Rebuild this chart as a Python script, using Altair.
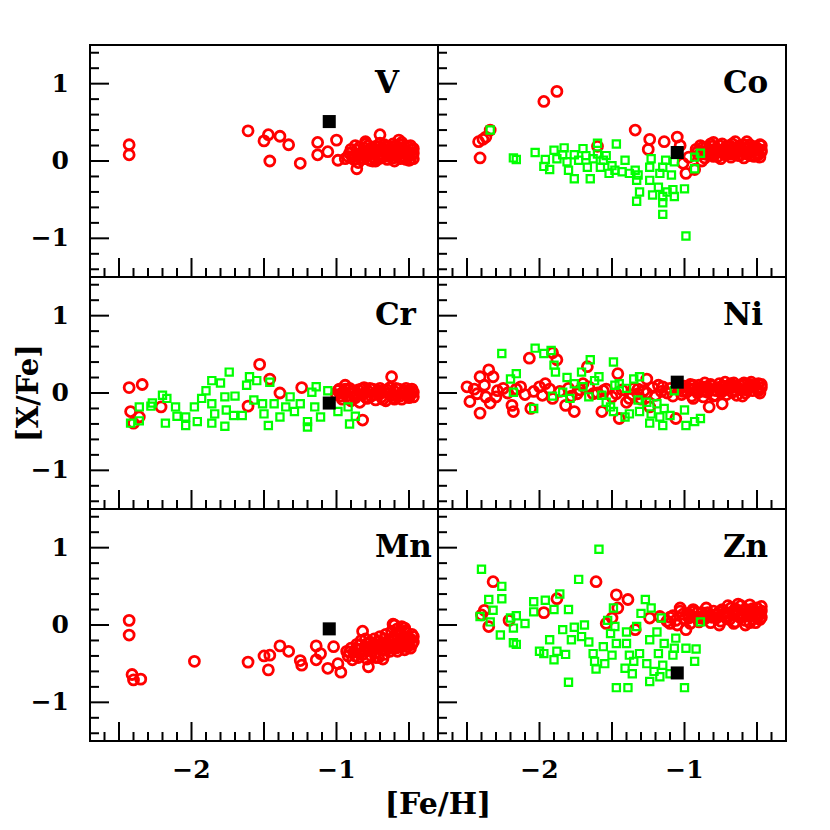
import altair as alt
import pandas as pd

FONT = "DejaVu Serif"
XDOM = [-2.7, -0.3]
YDOM = [-1.5, 1.5]
W, H = 348, 232

panel_names = ["V", "Co", "Cr", "Ni", "Mn", "Zn"]

# ---------------- data (x = [Fe/H], y = [X/Fe]) ----------------
V_red = [(-2.43, 0.21), (-2.43, 0.08), (-1.61, 0.39), (-1.47, 0.34), (-1.50, 0.26), (-1.39, 0.32),
         (-1.33, 0.21), (-1.46, 0.00), (-1.25, -0.03), (-1.13, 0.24), (-1.00, 0.27), (-1.13, 0.08),
         (-1.06, 0.12), (-0.99, 0.01), (-0.94, 0.03), (-0.86, -0.10), (-0.70, 0.34), (-0.57, 0.27),
         (-0.92, 0.06), (-0.90, 0.15), (-0.88, 0.02), (-0.87, 0.20), (-0.85, 0.09), (-0.84, 0.18),
         (-0.83, 0.04), (-0.82, 0.12), (-0.80, 0.22), (-0.79, 0.07), (-0.78, 0.14), (-0.77, 0.01),
         (-0.76, 0.17), (-0.75, 0.10), (-0.74, 0.05), (-0.73, 0.19), (-0.72, 0.13), (-0.71, 0.03),
         (-0.70, 0.09), (-0.69, 0.16), (-0.68, 0.06), (-0.67, 0.21), (-0.66, 0.11), (-0.65, 0.02),
         (-0.64, 0.15), (-0.63, 0.08), (-0.62, 0.18), (-0.61, 0.04), (-0.60, 0.12), (-0.59, 0.20),
         (-0.58, 0.07), (-0.57, 0.14), (-0.56, 0.03), (-0.55, 0.17), (-0.54, 0.10), (-0.53, 0.05),
         (-0.52, 0.13), (-0.51, 0.19), (-0.50, 0.08), (-0.49, 0.02), (-0.48, 0.15), (-0.47, 0.10),
         (-0.85, -0.02), (-0.80, 0.25), (-0.75, 0.00), (-0.70, 0.23), (-0.65, 0.18), (-0.60, 0.00),
         (-0.55, 0.24), (-0.50, 0.01),
         (-0.91, 0.10), (-0.89, 0.05), (-0.86, 0.14), (-0.84, 0.08), (-0.81, 0.17), (-0.81, 0.03),
         (-0.78, 0.20), (-0.77, 0.09), (-0.74, 0.15), (-0.73, 0.00), (-0.71, 0.18), (-0.69, 0.04),
         (-0.67, 0.12), (-0.66, 0.19), (-0.64, 0.06), (-0.62, 0.13), (-0.61, 0.22), (-0.59, 0.09),
         (-0.58, 0.16), (-0.56, 0.21), (-0.55, 0.06), (-0.53, 0.18), (-0.52, 0.02), (-0.51, 0.11),
         (-0.49, 0.20), (-0.48, 0.08), (-0.47, 0.16), (-0.47, 0.03), (-0.60, 0.07), (-0.70, 0.13)]
V_green = []
V_star = [(-1.05, 0.51)]

Co_red = [(-2.41, 0.04), (-2.42, 0.25), (-2.39, 0.28), (-2.37, 0.31), (-2.34, 0.40), (-1.97, 0.77),
          (-1.88, 0.90), (-1.60, 0.19), (-1.34, 0.40), (-1.24, 0.28), (-1.25, 0.15), (-1.14, 0.25),
          (-1.05, 0.31), (-1.03, 0.20), (-0.99, -0.16), (-0.93, -0.11), (-1.01, -0.03), (-0.97, 0.05),
          (-0.92, 0.15), (-0.90, 0.08), (-0.89, 0.20), (-0.87, 0.12), (-0.86, 0.04), (-0.85, 0.18),
          (-0.83, 0.10), (-0.82, 0.22), (-0.80, 0.06), (-0.79, 0.15), (-0.78, 0.11), (-0.76, 0.20),
          (-0.75, 0.03), (-0.74, 0.14), (-0.72, 0.08), (-0.71, 0.19), (-0.70, 0.12), (-0.68, 0.05),
          (-0.67, 0.22), (-0.66, 0.10), (-0.64, 0.16), (-0.63, 0.07), (-0.62, 0.20), (-0.60, 0.12),
          (-0.59, 0.04), (-0.58, 0.17), (-0.56, 0.09), (-0.55, 0.21), (-0.54, 0.13), (-0.52, 0.06),
          (-0.51, 0.18), (-0.50, 0.10), (-0.49, 0.15), (-0.48, 0.05), (-0.47, 0.12), (-0.47, 0.20),
          (-0.88, 0.00), (-0.80, 0.24), (-0.65, 0.25), (-0.57, 0.25),
          (-0.91, 0.12), (-0.88, 0.17), (-0.86, 0.09), (-0.84, 0.14), (-0.81, 0.19), (-0.81, 0.08),
          (-0.78, 0.16), (-0.77, 0.06), (-0.74, 0.22), (-0.73, 0.10), (-0.71, 0.15), (-0.69, 0.20),
          (-0.68, 0.09), (-0.66, 0.17), (-0.64, 0.11), (-0.62, 0.14), (-0.61, 0.08), (-0.59, 0.21),
          (-0.58, 0.11), (-0.56, 0.16), (-0.55, 0.07), (-0.53, 0.19), (-0.52, 0.13), (-0.50, 0.16),
          (-0.49, 0.08), (-0.48, 0.21), (-0.47, 0.14), (-0.63, 0.18), (-0.76, 0.13), (-0.85, 0.12)]
Co_green = [(-2.34, 0.40), (-2.18, 0.04), (-2.16, 0.02), (-2.03, 0.11), (-1.96, 0.02), (-1.97, -0.07),
            (-1.93, -0.11), (-1.90, 0.14), (-1.88, 0.03), (-1.83, 0.17), (-1.84, 0.08), (-1.81, -0.01),
            (-1.80, -0.12), (-1.76, -0.23), (-1.76, 0.08), (-1.73, 0.01), (-1.70, 0.16), (-1.68, 0.07),
            (-1.67, -0.08), (-1.65, -0.23), (-1.63, 0.03), (-1.60, 0.23), (-1.60, 0.09), (-1.58, -0.08),
            (-1.56, 0.01), (-1.54, 0.07), (-1.52, -0.16), (-1.50, -0.06), (-1.48, -0.12), (-1.47, 0.22),
            (-1.43, -0.14), (-1.41, 0.01), (-1.38, -0.16), (-1.34, -0.12), (-1.32, -0.18), (-1.33, -0.25),
            (-1.31, -0.40), (-1.33, -0.52), (-1.24, -0.25), (-1.24, -0.08), (-1.23, 0.03), (-1.22, -0.44),
            (-1.18, -0.34), (-1.17, -0.16), (-1.15, -0.46), (-1.15, -0.54), (-1.15, -0.69), (-1.15, -0.08),
            (-1.13, 0.01), (-1.12, -0.40), (-1.09, -0.18), (-1.08, -0.37), (-1.07, -0.46), (-1.00, -0.36),
            (-0.99, -0.97), (-0.93, 0.05), (-0.89, 0.10), (-0.93, -0.10), (-1.07, -0.01)]
Co_star = [(-1.05, 0.11)]

Cr_red = [(-2.43, 0.07), (-2.34, 0.11), (-2.42, -0.24), (-2.36, -0.31), (-2.40, -0.39), (-2.21, -0.18),
          (-1.53, 0.37), (-1.46, 0.18), (-1.61, -0.17), (-1.39, 0.00), (-1.24, 0.07), (-0.94, 0.10),
          (-0.82, -0.35), (-0.62, 0.21),
          (-1.00, -0.02), (-0.98, 0.05), (-0.96, -0.08), (-0.95, 0.02), (-0.93, -0.04), (-0.91, 0.06),
          (-0.90, -0.10), (-0.88, 0.00), (-0.87, -0.06), (-0.85, 0.04), (-0.84, -0.12), (-0.82, -0.02),
          (-0.81, 0.07), (-0.79, -0.07), (-0.78, 0.02), (-0.76, -0.04), (-0.75, 0.05), (-0.73, -0.09),
          (-0.72, 0.00), (-0.70, 0.06), (-0.69, -0.05), (-0.67, 0.03), (-0.66, -0.10), (-0.64, -0.01),
          (-0.63, 0.07), (-0.61, -0.06), (-0.60, 0.02), (-0.58, -0.03), (-0.57, 0.05), (-0.55, -0.08),
          (-0.54, 0.01), (-0.52, 0.06), (-0.51, -0.04), (-0.50, 0.03), (-0.49, -0.02), (-0.48, 0.05),
          (-0.47, -0.05), (-0.47, 0.01),
          (-0.99, 0.03), (-0.97, -0.04), (-0.94, 0.05), (-0.92, -0.07), (-0.89, 0.03), (-0.86, -0.02),
          (-0.83, 0.05), (-0.80, -0.05), (-0.77, 0.06), (-0.74, -0.02), (-0.71, 0.03), (-0.68, -0.08),
          (-0.65, 0.04), (-0.62, -0.03), (-0.59, 0.06), (-0.56, -0.04), (-0.53, 0.03), (-0.50, -0.06),
          (-0.48, 0.02), (-0.52, -0.02), (-0.60, -0.08), (-0.70, -0.01), (-0.80, 0.01), (-0.88, -0.04),
          (-0.96, 0.00)]
Cr_green = [(-2.42, -0.39), (-2.36, -0.36), (-2.36, -0.18), (-2.28, -0.17), (-2.27, -0.13), (-2.20, -0.03),
            (-2.17, -0.07), (-2.11, -0.18), (-2.18, -0.39), (-2.10, -0.30), (-2.04, -0.31), (-2.04, -0.42),
            (-1.98, -0.18), (-1.96, -0.37), (-1.93, -0.07), (-1.90, 0.03), (-1.86, 0.16), (-1.86, -0.14),
            (-1.86, -0.39), (-1.84, -0.27), (-1.80, 0.13), (-1.77, -0.05), (-1.77, -0.43), (-1.74, 0.27),
            (-1.76, -0.22), (-1.71, -0.29), (-1.70, -0.04), (-1.65, -0.29), (-1.62, 0.10), (-1.60, 0.21),
            (-1.55, 0.16), (-1.57, -0.09), (-1.51, -0.14), (-1.50, -0.27), (-1.47, -0.42), (-1.46, 0.14),
            (-1.43, -0.14), (-1.39, -0.31), (-1.35, -0.18), (-1.32, -0.05), (-1.29, -0.24), (-1.25, -0.14),
            (-1.20, -0.37), (-1.20, -0.44), (-1.17, 0.01), (-1.14, 0.08), (-1.15, -0.18), (-1.11, -0.31),
            (-1.06, 0.03), (-0.99, -0.24), (-0.92, -0.18), (-0.91, -0.40), (-0.87, -0.30)]
Cr_star = [(-1.05, -0.13)]

Ni_red = [(-2.50, 0.08), (-2.48, -0.11), (-2.41, 0.21), (-2.35, 0.30), (-2.32, 0.21), (-2.41, -0.26),
          (-2.37, -0.05), (-2.43, -0.01), (-2.34, -0.13), (-2.29, 0.03), (-2.19, -0.16), (-2.18, -0.24),
          (-2.13, 0.08), (-2.07, 0.45), (-2.06, -0.20), (-2.00, 0.08), (-1.96, 0.12), (-1.91, 0.52),
          (-1.88, 0.43), (-1.91, -0.07), (-1.82, -0.16), (-1.76, -0.24), (-1.74, -0.01), (-1.70, 0.12),
          (-1.67, 0.34), (-1.63, -0.01), (-1.57, -0.24), (-1.56, 0.03), (-1.46, 0.25), (-1.45, -0.33),
          (-1.47, -0.01), (-1.38, -0.07), (-1.32, -0.01), (-1.26, 0.18), (-1.24, -0.18), (-1.15, 0.08),
          (-1.06, -0.33), (-0.94, -0.07), (-0.83, -0.18), (-0.74, -0.14),
          (-2.45, 0.05), (-2.38, 0.10), (-2.30, -0.05), (-2.25, 0.06), (-2.22, 0.00), (-2.16, 0.05),
          (-2.10, -0.02), (-2.04, 0.02), (-1.98, -0.03), (-1.93, 0.05), (-1.86, 0.02), (-1.80, 0.06),
          (-1.78, -0.04), (-1.72, 0.04), (-1.66, 0.08), (-1.60, 0.00), (-1.54, 0.05), (-1.50, -0.05),
          (-1.43, 0.04), (-1.40, -0.12), (-1.35, 0.06), (-1.30, -0.08), (-1.28, 0.03), (-1.22, 0.07),
          (-1.20, -0.03), (-1.18, 0.10), (-1.12, 0.00), (-1.10, 0.06),
          (-1.04, 0.05), (-1.02, -0.02), (-1.00, 0.09), (-0.98, 0.02), (-0.96, 0.11), (-0.95, -0.04),
          (-0.93, 0.06), (-0.91, 0.00), (-0.90, 0.10), (-0.88, 0.03), (-0.87, -0.05), (-0.85, 0.08),
          (-0.84, 0.01), (-0.82, 0.11), (-0.80, 0.04), (-0.79, -0.03), (-0.77, 0.07), (-0.76, 0.12),
          (-0.74, 0.02), (-0.73, 0.09), (-0.71, -0.02), (-0.70, 0.06), (-0.68, 0.12), (-0.67, 0.01),
          (-0.65, 0.08), (-0.64, -0.03), (-0.62, 0.10), (-0.61, 0.04), (-0.59, 0.13), (-0.58, 0.00),
          (-0.56, 0.07), (-0.55, 0.11), (-0.53, 0.03), (-0.52, 0.09), (-0.50, 0.05), (-0.49, 0.12),
          (-0.48, 0.00), (-0.47, 0.07), (-0.86, 0.13), (-0.72, 0.14), (-0.60, -0.04), (-0.54, 0.14),
          (-1.03, 0.08), (-1.01, 0.02), (-0.97, 0.06), (-0.94, 0.10), (-0.92, 0.03), (-0.89, 0.07),
          (-0.86, 0.02), (-0.83, 0.06), (-0.81, 0.09), (-0.78, 0.03), (-0.75, 0.08), (-0.72, 0.05),
          (-0.69, 0.10), (-0.66, 0.04), (-0.63, 0.07), (-0.60, 0.11), (-0.57, 0.04), (-0.54, 0.08),
          (-0.51, 0.10), (-0.49, 0.03), (-0.47, 0.11), (-0.66, 0.13), (-0.80, -0.04),
          (-1.36, -0.02), (-1.32, 0.05), (-1.26, 0.00), (-1.16, 0.02), (-1.08, -0.04)]
Ni_green = [(-2.26, 0.51), (-2.16, 0.25), (-2.20, 0.18), (-2.18, 0.01), (-2.03, 0.58), (-2.04, -0.20),
            (-1.97, 0.51), (-1.92, 0.55), (-1.90, 0.36), (-1.89, 0.27), (-1.91, -0.04), (-1.84, 0.01),
            (-1.81, 0.20), (-1.79, -0.07), (-1.76, 0.12), (-1.71, 0.27), (-1.70, 0.08), (-1.65, 0.43),
            (-1.66, -0.05), (-1.62, 0.16), (-1.59, 0.21), (-1.57, -0.03), (-1.54, -0.12), (-1.51, -0.18),
            (-1.49, 0.40), (-1.48, 0.10), (-1.49, -0.24), (-1.45, 0.12), (-1.40, 0.06), (-1.41, -0.31),
            (-1.38, -0.27), (-1.35, 0.18), (-1.31, 0.21), (-1.32, -0.09), (-1.31, -0.24), (-1.26, -0.12),
            (-1.24, -0.39), (-1.23, -0.27), (-1.19, -0.14), (-1.17, -0.31), (-1.15, -0.42), (-1.14, -0.20),
            (-1.10, -0.29), (-1.07, 0.03), (-1.00, -0.22), (-0.99, -0.42), (-0.93, -0.37), (-0.89, -0.33)]
Ni_star = [(-1.05, 0.14)]

Mn_red = [(-2.43, 0.06), (-2.43, -0.13), (-2.41, -0.64), (-2.40, -0.71), (-2.35, -0.70), (-1.98, -0.47),
          (-1.61, -0.48), (-1.50, -0.40), (-1.46, -0.39), (-1.47, -0.58), (-1.39, -0.27), (-1.33, -0.34),
          (-1.25, -0.46), (-1.24, -0.52), (-1.14, -0.27), (-1.11, -0.37), (-1.14, -0.45), (-1.06, -0.56),
          (-1.02, -0.28), (-0.99, -0.50), (-0.97, -0.61), (-0.93, -0.34), (-0.82, -0.08), (-0.78, -0.54),
          (-0.61, 0.01), (-0.53, -0.04),
          (-0.92, -0.40), (-0.90, -0.30), (-0.89, -0.45), (-0.88, -0.35), (-0.86, -0.25), (-0.85, -0.42),
          (-0.84, -0.32), (-0.83, -0.20), (-0.82, -0.38), (-0.80, -0.28), (-0.79, -0.44), (-0.78, -0.33),
          (-0.77, -0.22), (-0.76, -0.40), (-0.75, -0.30), (-0.74, -0.18), (-0.73, -0.36), (-0.72, -0.26),
          (-0.71, -0.42), (-0.70, -0.15), (-0.69, -0.32), (-0.68, -0.24), (-0.67, -0.38), (-0.66, -0.12),
          (-0.65, -0.28), (-0.64, -0.20), (-0.63, -0.34), (-0.62, -0.08), (-0.61, -0.25), (-0.60, -0.16),
          (-0.59, -0.30), (-0.58, -0.05), (-0.57, -0.22), (-0.56, -0.12), (-0.55, -0.28), (-0.54, -0.18),
          (-0.53, -0.08), (-0.52, -0.25), (-0.51, -0.15), (-0.50, -0.20), (-0.49, -0.30), (-0.48, -0.12),
          (-0.47, -0.22), (-0.55, -0.02), (-0.60, 0.00), (-0.53, -0.32),
          (-0.91, -0.35), (-0.87, -0.40), (-0.86, -0.31), (-0.84, -0.26), (-0.81, -0.34), (-0.79, -0.24),
          (-0.77, -0.30), (-0.74, -0.26), (-0.73, -0.42), (-0.71, -0.22), (-0.69, -0.28), (-0.67, -0.18),
          (-0.66, -0.32), (-0.64, -0.26), (-0.62, -0.18), (-0.61, -0.30), (-0.59, -0.12), (-0.57, -0.26),
          (-0.56, -0.19), (-0.54, -0.24), (-0.52, -0.10), (-0.51, -0.28), (-0.49, -0.18), (-0.48, -0.25),
          (-0.47, -0.15), (-0.58, -0.34), (-0.68, -0.44), (-0.80, -0.18)]
Mn_green = []
Mn_star = [(-1.05, -0.05)]

Zn_red = [(-2.40, 0.13), (-2.38, 0.19), (-2.35, -0.02), (-2.32, 0.56), (-2.21, 0.06), (-1.97, 0.16),
          (-1.88, 0.34), (-1.61, 0.56), (-1.47, 0.39), (-1.39, 0.33), (-1.46, 0.22), (-1.50, 0.09),
          (-1.54, 0.02), (-1.34, -0.06), (-1.24, 0.09), (-1.17, 0.11), (-1.10, 0.02), (-1.03, 0.22),
          (-0.99, -0.06), (-0.94, 0.17),
          (-1.12, 0.05), (-1.08, 0.12), (-1.05, 0.00), (-1.03, 0.18), (-1.00, 0.08), (-0.98, 0.15),
          (-0.96, 0.02), (-0.94, 0.20), (-0.92, 0.10), (-0.90, 0.04), (-0.88, 0.16), (-0.86, 0.08),
          (-0.85, 0.22), (-0.83, 0.12), (-0.82, 0.03), (-0.80, 0.18), (-0.78, 0.09), (-0.77, 0.14),
          (-0.75, 0.05), (-0.74, 0.20), (-0.72, 0.11), (-0.71, 0.16), (-0.69, 0.07), (-0.68, 0.22),
          (-0.66, 0.13), (-0.65, 0.04), (-0.64, 0.18), (-0.62, 0.10), (-0.61, 0.25), (-0.60, 0.14),
          (-0.58, 0.06), (-0.57, 0.20), (-0.56, 0.12), (-0.55, 0.26), (-0.53, 0.08), (-0.52, 0.17),
          (-0.51, 0.03), (-0.50, 0.22), (-0.49, 0.12), (-0.48, 0.07), (-0.47, 0.18), (-0.47, 0.24),
          (-0.63, 0.27), (-0.70, 0.25), (-0.58, 0.00), (-0.76, 0.00),
          (-1.10, 0.10), (-1.06, 0.06), (-1.01, 0.14), (-0.97, 0.09), (-0.95, 0.12), (-0.91, 0.16),
          (-0.89, 0.09), (-0.87, 0.12), (-0.84, 0.16), (-0.81, 0.10), (-0.79, 0.13), (-0.76, 0.17),
          (-0.73, 0.14), (-0.70, 0.10), (-0.67, 0.17), (-0.65, 0.21), (-0.63, 0.14), (-0.60, 0.19),
          (-0.59, 0.11), (-0.56, 0.17), (-0.54, 0.13), (-0.53, 0.21), (-0.51, 0.14), (-0.50, 0.09),
          (-0.48, 0.15), (-0.47, 0.10), (-0.55, 0.03), (-0.66, 0.02)]
Zn_green = [(-2.40, 0.72), (-2.41, 0.11), (-2.35, 0.33), (-2.32, 0.19), (-2.34, 0.04), (-2.27, -0.13),
            (-2.26, 0.50), (-2.26, 0.34), (-2.20, 0.09), (-2.18, -0.04), (-2.18, -0.23), (-2.16, -0.25),
            (-2.16, 0.12), (-2.10, 0.02), (-2.04, 0.30), (-2.04, 0.17), (-2.00, -0.34), (-1.96, 0.32),
            (-1.97, -0.37), (-1.93, -0.19), (-1.90, 0.20), (-1.90, -0.45), (-1.88, -0.34), (-1.86, 0.40),
            (-1.84, -0.06), (-1.82, -0.38), (-1.80, 0.20), (-1.80, -0.74), (-1.78, -0.19), (-1.76, -0.03),
            (-1.73, 0.59), (-1.71, -0.15), (-1.69, 0.00), (-1.66, -0.22), (-1.63, -0.37), (-1.62, -0.47),
            (-1.61, -0.57), (-1.59, 0.98), (-1.56, -0.28), (-1.55, -0.50), (-1.53, 0.06), (-1.51, -0.11),
            (-1.50, -0.39), (-1.49, 0.22), (-1.48, -0.02), (-1.47, -0.24), (-1.47, -0.81), (-1.40, -0.24),
            (-1.40, -0.09), (-1.39, -0.81), (-1.38, -0.39), (-1.41, -0.56), (-1.36, -0.63), (-1.35, -0.47),
            (-1.33, -0.02), (-1.31, -0.37), (-1.30, 0.15), (-1.27, 0.33), (-1.26, -0.50), (-1.24, -0.19),
            (-1.24, -0.73), (-1.23, 0.22), (-1.21, -0.60), (-1.19, -0.09), (-1.18, -0.37), (-1.17, -0.67),
            (-1.16, 0.09), (-1.15, -0.52), (-1.14, -0.24), (-1.10, -0.63), (-1.08, -0.39), (-1.06, -0.17),
            (-1.00, -0.81), (-0.99, -0.30), (-0.93, -0.47), (-0.92, -0.31), (-0.89, 0.04), (-1.07, -0.30)]
Zn_star = [(-1.05, -0.62)]

red_sets = {"V": V_red, "Co": Co_red, "Cr": Cr_red, "Ni": Ni_red, "Mn": Mn_red, "Zn": Zn_red}
green_sets = {"V": V_green, "Co": Co_green, "Cr": Cr_green, "Ni": Ni_green, "Mn": Mn_green, "Zn": Zn_green}
star_sets = {"V": V_star, "Co": Co_star, "Cr": Cr_star, "Ni": Ni_star, "Mn": Mn_star, "Zn": Zn_star}

x_major_ticks = [-2.5, -2.0, -1.5, -1.0, -0.5]
x_minor_ticks = [-2.6, -2.4, -2.3, -2.2, -2.1, -1.9, -1.8, -1.7, -1.6, -1.4, -1.3, -1.2, -1.1,
                 -0.9, -0.8, -0.7, -0.6, -0.4]
y_major_ticks = [-1.0, 0.0, 1.0]
y_minor_ticks = [-1.4, -1.2, -0.8, -0.6, -0.4, -0.2, 0.2, 0.4, 0.6, 0.8, 1.2, 1.4]
x_tick_labels = [-2, -1]
y_tick_labels = [-1, 0, 1]
x_title = "[Fe/H]"
y_title = "[X/Fe]"

label_pos_x = -0.735
label_pos_y = 0.88

xs = alt.Scale(domain=XDOM, nice=False, zero=False)
ys = alt.Scale(domain=YDOM, nice=False, zero=False)


def df_of(pts):
    return pd.DataFrame({"x": [p[0] for p in pts], "y": [p[1] for p in pts]})


def X(field):
    return alt.X(field, scale=xs, axis=None)


def Y(field):
    return alt.Y(field, scale=ys, axis=None)


def make_panel(name, row, col):
    layers = []
    layers.append(alt.Chart(df_of(red_sets[name])).mark_point(
        shape="circle", filled=False, color="#ff0000", size=100, strokeWidth=2.8, opacity=1
    ).encode(x=X("x:Q"), y=Y("y:Q")))
    if green_sets[name]:
        layers.append(alt.Chart(df_of(green_sets[name])).mark_point(
            shape="square", filled=False, color="#00ff00", size=52, strokeWidth=2.2, opacity=1
        ).encode(x=X("x:Q"), y=Y("y:Q")))
    layers.append(alt.Chart(df_of(star_sets[name])).mark_point(
        shape="square", filled=True, color="black", size=170, opacity=1
    ).encode(x=X("x:Q"), y=Y("y:Q")))

    # inward ticks
    layers.append(alt.Chart(pd.DataFrame({"t": x_major_ticks})).mark_rule(
        color="black", strokeWidth=2).encode(
        x=X("t:Q"), y=alt.value(H), y2=alt.value(H - 19)))
    layers.append(alt.Chart(pd.DataFrame({"t": x_minor_ticks})).mark_rule(
        color="black", strokeWidth=2).encode(
        x=X("t:Q"), y=alt.value(H), y2=alt.value(H - 9)))
    layers.append(alt.Chart(pd.DataFrame({"t": y_major_ticks})).mark_rule(
        color="black", strokeWidth=2).encode(
        y=Y("t:Q"), x=alt.value(0), x2=alt.value(19)))
    layers.append(alt.Chart(pd.DataFrame({"t": y_minor_ticks})).mark_rule(
        color="black", strokeWidth=2).encode(
        y=Y("t:Q"), x=alt.value(0), x2=alt.value(9)))

    # tick labels
    if row == 2:
        layers.append(alt.Chart(pd.DataFrame({"t": x_tick_labels})).mark_text(
            align="center", baseline="top", font=FONT, fontSize=25, fontWeight="bold",
            color="black").encode(
            x=X("t:Q"), y=alt.value(H + 17), text=alt.Text("t:Q", format="d")))
    if col == 0:
        layers.append(alt.Chart(pd.DataFrame({"t": y_tick_labels})).mark_text(
            align="right", baseline="middle", font=FONT, fontSize=25, fontWeight="bold",
            color="black").encode(
            y=Y("t:Q"), x=alt.value(-21), text=alt.Text("t:Q", format="d")))
    # axis titles
    if row == 2 and col == 0:
        layers.append(alt.Chart(pd.DataFrame({"lab": [x_title]})).mark_text(
            align="center", baseline="alphabetic", font=FONT, fontSize=30, fontWeight="bold",
            color="black").encode(x=alt.value(W), y=alt.value(H + 73), text="lab:N"))
    if row == 1 and col == 0:
        layers.append(alt.Chart(pd.DataFrame({"lab": [y_title]})).mark_text(
            align="center", baseline="alphabetic", font=FONT, fontSize=29, fontWeight="bold",
            angle=270, color="black").encode(x=alt.value(-52), y=alt.value(H / 2), text="lab:N"))

    # element label
    layers.append(alt.Chart(pd.DataFrame({"lab": [name]})).mark_text(
        align="left", baseline="alphabetic", font=FONT, fontSize=31, fontWeight="bold",
        color="black").encode(
        x=alt.datum(label_pos_x, scale=xs, axis=None),
        y=alt.datum(label_pos_y, scale=ys, axis=None), text="lab:N"))

    return alt.layer(*layers).properties(width=W, height=H)


panels = []
for i, nm in enumerate(panel_names):
    panels.append(make_panel(nm, i // 2, i % 2))

chart = alt.concat(*panels, columns=2, spacing=0, bounds="flush").resolve_scale(
    x="independent", y="independent"
).configure_view(
    stroke="black", strokeWidth=2
).properties(
    padding={"left": 6, "top": 36, "right": 5, "bottom": 5}
)

chart.save("out.html", embed_options={"renderer": "svg", "actions": False})
